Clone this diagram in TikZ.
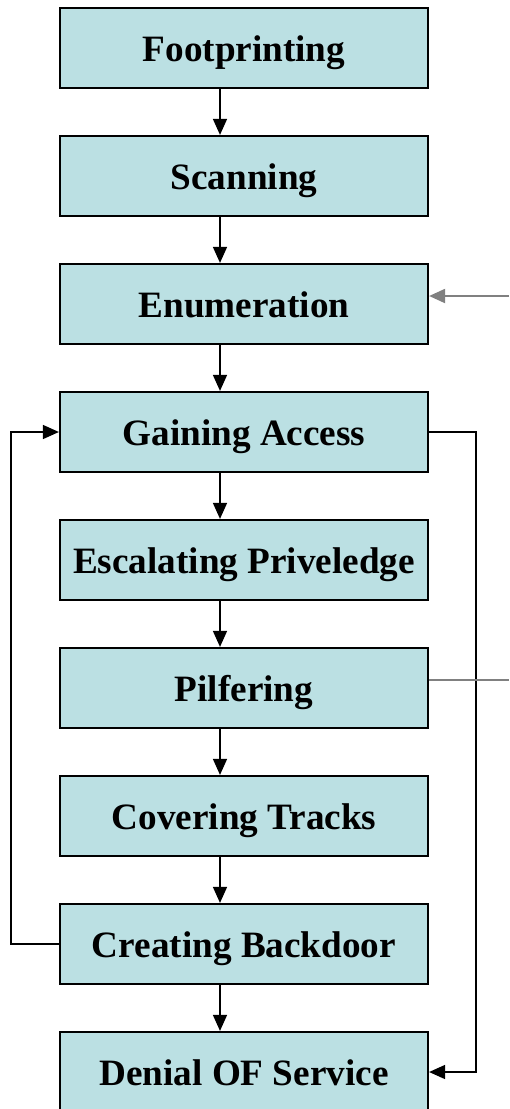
\documentclass[tikz,border=0pt]{standalone}
\usepackage{fontspec}
\setmainfont{Liberation Serif}
\usepackage{tikz, xcolor}
\usetikzlibrary{shapes,arrows.meta}
\definecolor{stagefill}{RGB}{187,224,227}

\begin{document}
\begin{tikzpicture}[x=0.5pt, y=-0.5pt]
\tikzstyle{stagebox}=[rectangle, draw=black, line width=1.1pt, fill=stagefill, minimum width=184pt, minimum height=40pt, inner sep=2pt, text height=16pt, text depth=3pt, font=\fontsize{18.6}{21}\selectfont\bfseries]
\tikzstyle{drawstyle}=[line width=0.75pt, -{Triangle[length=8pt, width=7pt]}]
\tikzstyle{graystyle}=[line width=1pt, draw=gray]

\useasboundingbox (0,0) rectangle (509,1109);

\node[stagebox] (S0) at (244,48) {Footprinting};
\node[stagebox] (S1) at (244,176) {Scanning};
\node[stagebox] (S2) at (244,304) {Enumeration};
\node[stagebox] (S3) at (244,432) {Gaining Access};
\node[stagebox] (S4) at (244,560) {Escalating Priveledge};
\node[stagebox] (S5) at (244,688) {Pilfering};
\node[stagebox] (S6) at (244,816) {Covering Tracks};
\node[stagebox] (S7) at (244,944) {Creating Backdoor};
\node[stagebox] (S8) at (244,1072) {Denial OF Service};

\coordinate (ax) at (220,0);
\foreach \a/\b in {S0/S1, S1/S2, S2/S3, S3/S4, S4/S5, S5/S6, S6/S7, S7/S8}
  \draw[drawstyle] (\a.south -| ax) -- (\b.north -| ax);

% loops
\draw[drawstyle] (S7.west) -- ++(-48,0) |- (S3.west);
\draw[drawstyle] (S3.east) -- ++(47,0) |- (S8.east);

% gray side lines
\coordinate (e2) at (509,296);
\coordinate (e5) at (509,680);
\draw[graystyle, -{Triangle[length=8pt, width=7pt]}] (e2) -- (e2 -| S2.east);
\draw[graystyle] (e5 -| S5.east) -- (e5);
\end{tikzpicture}
\end{document}
